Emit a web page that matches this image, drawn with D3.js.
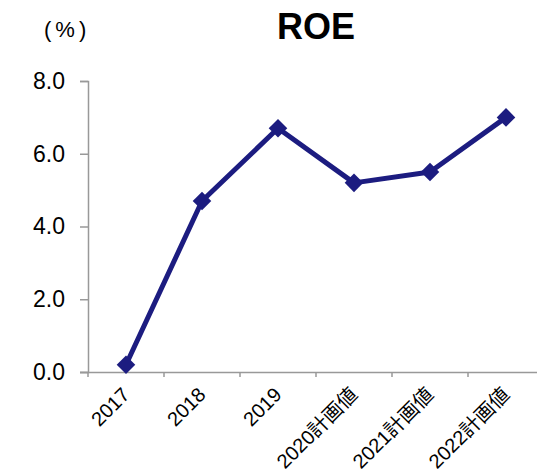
<!DOCTYPE html>
<html>
<head>
<meta charset="utf-8">
<script src="https://cdn.jsdelivr.net/npm/d3@7"></script>
<style>
  body { margin: 0; background: #fff; }
  text { font-family: Arial, "Liberation Sans", "Noto Sans CJK JP", sans-serif; }
</style>
</head>
<body>
<div id="chart"></div>
<script>
const categories = ["2017", "2018", "2019", "2020計画値", "2021計画値", "2022計画値"];
const roeValues = [0.2, 4.7, 6.7, 5.2, 5.5, 7.0];
const yTicks = [0, 2, 4, 6, 8];

const width = 537, height = 474;
const margin = {top: 81, right: -7, bottom: 102, left: 88};

const svg = d3.select("#chart").append("svg")
    .attr("width", width)
    .attr("height", height);

const x = d3.scaleBand()
    .domain(categories)
    .range([margin.left, width - margin.right]);

const y = d3.scaleLinear()
    .domain([0, 8])
    .range([height - margin.bottom, margin.top]);

// y axis
const yAxis = svg.append("g")
    .attr("transform", `translate(${margin.left},0)`)
    .call(d3.axisLeft(y).tickValues(yTicks).tickSize(8).tickPadding(15).tickFormat(d3.format(".1f")));
yAxis.select(".domain").attr("stroke", "#999").attr("stroke-width", 1.5);
yAxis.selectAll(".tick line").attr("stroke", "#999").attr("stroke-width", 1.5);
yAxis.selectAll(".tick text").attr("font-size", 23).attr("fill", "#000");

// x axis
const xAxis = svg.append("g")
    .attr("transform", `translate(0,${y(0)})`)
    .call(d3.axisBottom(x).tickSize(0).tickSizeOuter(0));
xAxis.select(".domain").attr("stroke", "#999").attr("stroke-width", 1.5)
    .attr("d", `M${margin.left - 8},0.5H${width}`);
xAxis.selectAll(".tick line").remove();
xAxis.selectAll(".tick text")
    .attr("font-size", 20)
    .attr("fill", "#000")
    .attr("text-anchor", "end")
    .attr("transform", "translate(0,19) rotate(-45)")
    .attr("dy", "0.35em")
    .attr("y", 0);

// category boundary ticks
svg.append("g")
    .selectAll("line")
    .data(categories)
    .join("line")
    .attr("x1", d => x(d)).attr("x2", d => x(d))
    .attr("y1", y(0)).attr("y2", y(0) + 5)
    .attr("stroke", "#999").attr("stroke-width", 1.5);

const cx = d => x(d) + x.bandwidth() / 2;
const data = categories.map((c, i) => ({c, v: roeValues[i]}));

svg.append("path")
    .datum(data)
    .attr("fill", "none")
    .attr("stroke", "#1c1c80")
    .attr("stroke-width", 5)
    .attr("stroke-linejoin", "round")
    .attr("d", d3.line().x(d => cx(d.c)).y(d => y(d.v)));

svg.append("g")
    .selectAll("path")
    .data(data)
    .join("path")
    .attr("transform", d => `translate(${cx(d.c)},${y(d.v)})`)
    .attr("d", d3.symbol(d3.symbolDiamond2, 220))
    .attr("fill", "#1c1c80");

// title and unit
svg.append("text")
    .attr("x", 316).attr("y", 39)
    .attr("text-anchor", "middle")
    .attr("font-size", 36)
    .attr("font-weight", "bold")
    .text("ROE");

svg.append("text")
    .attr("x", 44).attr("y", 37)
    .attr("font-size", 22)
    .attr("letter-spacing", 4)
    .text("(%)");
</script>
</body>
</html>
